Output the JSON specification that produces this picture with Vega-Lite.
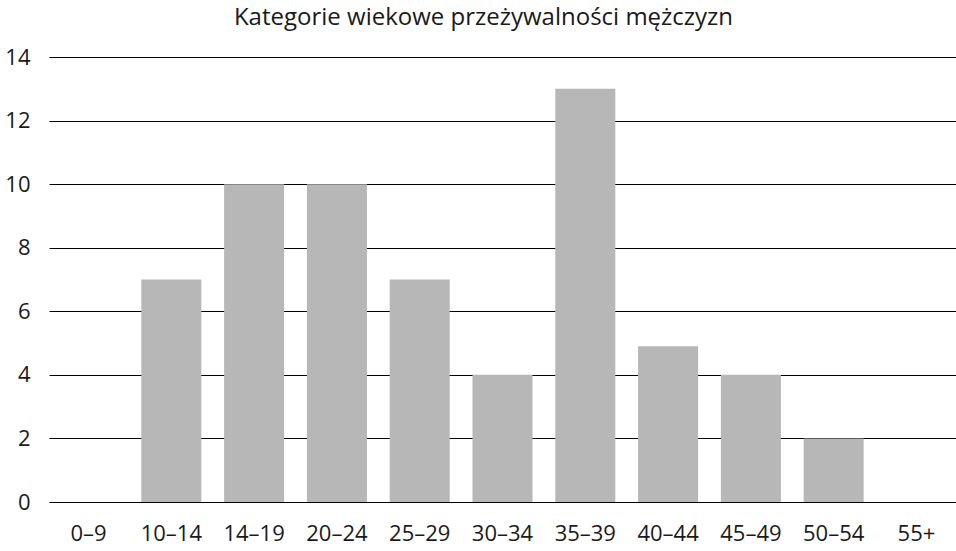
{
  "$schema": "https://vega.github.io/schema/vega-lite/v6.json",
  "autosize": {"type": "none"},
  "width": 907,
  "height": 445,
  "padding": {"left": 49, "top": 57, "right": 0, "bottom": 49},
  "background": "white",
  "title": {
    "text": "Kategorie wiekowe przeżywalności mężczyzn",
    "font": "Open Sans",
    "fontSize": 24,
    "fontWeight": "normal",
    "color": "#1a1a1a",
    "anchor": "middle",
    "frame": "group",
    "dx": -19,
    "offset": 16
  },
  "config": {
    "view": {"stroke": null},
    "axis": {"labelFont": "Open Sans", "labelFontSize": 22, "labelColor": "#1a1a1a"}
  },
  "data": {
    "values": [
      {"age": "0–9", "count": 0},
      {"age": "10–14", "count": 7},
      {"age": "14–19", "count": 10},
      {"age": "20–24", "count": 10},
      {"age": "25–29", "count": 7},
      {"age": "30–34", "count": 4},
      {"age": "35–39", "count": 13},
      {"age": "40–44", "count": 4.9},
      {"age": "45–49", "count": 4},
      {"age": "50–54", "count": 2},
      {"age": "55+", "count": 0}
    ]
  },
  "mark": {"type": "bar", "color": "#b7b7b7"},
  "encoding": {
    "x": {
      "field": "age",
      "type": "nominal",
      "sort": null,
      "scale": {"paddingInner": 0.275, "paddingOuter": 0.115},
      "axis": {
        "title": null,
        "labelAngle": 0,
        "ticks": false,
        "domain": false,
        "labelPadding": 21,
        "grid": false
      }
    },
    "y": {
      "field": "count",
      "type": "quantitative",
      "scale": {"domain": [0, 14]},
      "axis": {
        "title": null,
        "values": [0, 2, 4, 6, 8, 10, 12, 14],
        "ticks": false,
        "domain": false,
        "labelPadding": 19,
        "grid": true,
        "gridColor": "#000000",
        "gridWidth": 1.2,
        "gridOpacity": 1,
        "zindex": 0
      }
    }
  }
}
